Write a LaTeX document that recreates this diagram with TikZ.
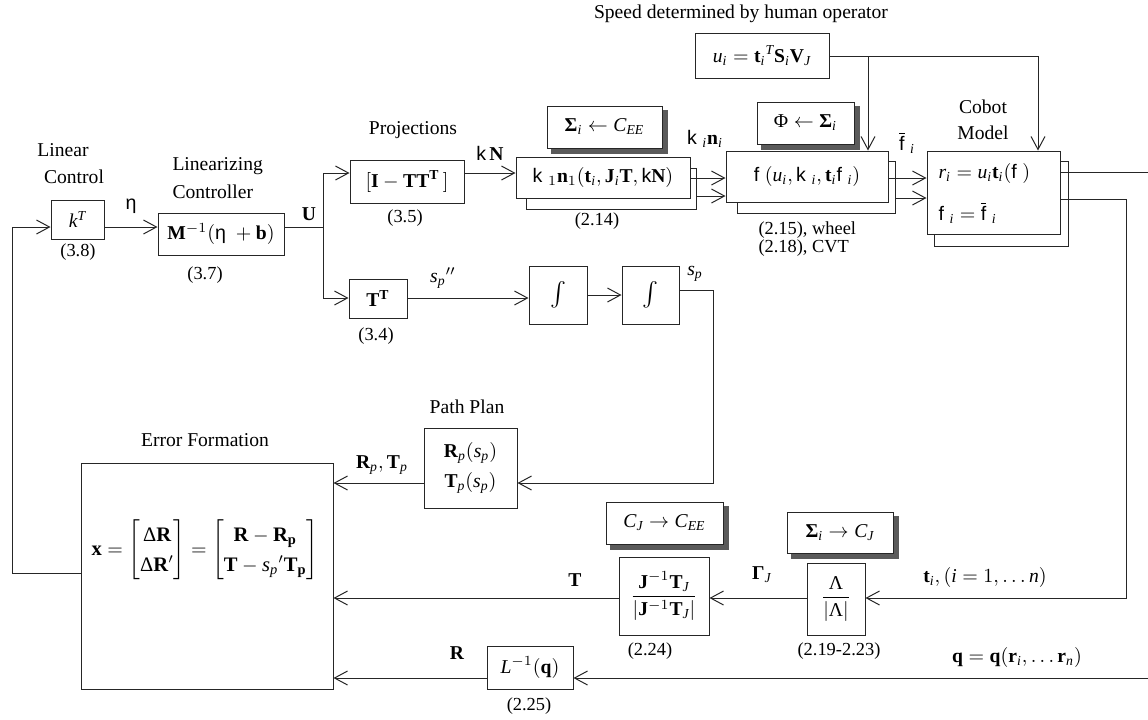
\documentclass[tikz,border=0pt]{standalone}
\usepackage{amsmath}
\usepackage{fontspec}
\setmainfont{Liberation Serif}
\newfontfamily\symf{Liberation Sans}
\DeclareSymbolFont{tletters}{TU}{\rmdefault}{m}{it}
\makeatletter
\count@=`a
\loop\Umathcode\count@="7 \symtletters \count@ \ifnum\count@<`z \advance\count@ by 1 \repeat
\count@=`A
\loop\Umathcode\count@="7 \symtletters \count@ \ifnum\count@<`Z \advance\count@ by 1 \repeat
\makeatother
\usetikzlibrary{arrows.meta,calc}
\definecolor{shadowgray}{RGB}{90,90,90}
\newcommand\Ksym{\text{\symf k}}
\newcommand\Fsym{\text{\symf f}}
\newcommand\Esym{\text{\symf η}}
\newcommand\gS{\text{\bfseries Σ}}
\begin{document}
\begin{tikzpicture}[x=0.5pt,y=-0.5pt,line width=0.5pt,draw=black!85,
  font=\fontsize{9.8}{11}\selectfont,
  box/.style={draw=black!85, fill=white, inner sep=0pt, align=center},
  shbox/.style={box},
  shadowbox/.style={draw=shadowgray, fill=shadowgray, line width=1pt},
  arr/.style={-{Straight Barb[length=6.5pt,width=7pt]}},
  lbl/.style={inner sep=0pt, align=center},
  eqn/.style={inner sep=0pt, font=\fontsize{9.2}{10}\selectfont}]
\useasboundingbox (0,0) rectangle (1148,719);

% ---------- shadows (drawn first, behind the boxes) ----------
\path[shadowbox] (552,111) rectangle (667,153);
\path[shadowbox] (762,107) rectangle (859,149);
\path[shadowbox] (611,507) rectangle (728,549);
\path[shadowbox] (792,517) rectangle (898,558);

% ---------- boxes ----------
\node[box,minimum width=26.5pt,minimum height=19.5pt] (kT) at (77.5,219.5) {$k^T$};
\node[box,minimum width=63pt,minimum height=21pt] (M) at (221,234) {$\mathbf{M}^{-1}(\Esym\;+\mathbf{b})$};
\node[box,minimum width=57pt,minimum height=21.5pt] (IT) at (407,181.5) {$[\mathbf{I}-\mathbf{T}\mathbf{T}^{\mathbf{T}}\,]$};
\node[box,minimum width=29pt,minimum height=19.5pt] (TT) at (378,298.5) {$\mathbf{T}^{\mathbf{T}}$};
\node[box,minimum width=29pt,minimum height=29pt,font=\fontsize{13}{13}\selectfont] (I1) at (558,295) {$\int$};
\node[box,minimum width=28.5pt,minimum height=29pt,font=\fontsize{13}{13}\selectfont] (I2) at (650.5,295) {$\int$};
\node[shbox,minimum width=57.5pt,minimum height=21pt] (S1) at (604.5,127) {$\gS_i\leftarrow C_{EE}$};
\node[box,minimum width=85pt,minimum height=20.5pt] (kapB) at (611,188.5) {};
\node[box,minimum width=87pt,minimum height=20.5pt] (kap) at (603,177.5) {$\Ksym\;_{1}\mathbf{n}_1(\mathbf{t}_i,\mathbf{J}_i\mathbf{T},\Ksym\mathbf{N})$};
\node[shbox,minimum width=48.5pt,minimum height=21pt] (P1) at (805.5,123) {$\text{Φ}\leftarrow\gS_i$};
\node[box,minimum width=79pt,minimum height=26pt] (phiB) at (816,187) {};
\node[box,minimum width=81pt,minimum height=25.5pt] (phi) at (807,176.5) {$\Fsym\;(u_i,\Ksym\;_i,\mathbf{t}_i\Fsym\;_i)$};
\node[box,minimum width=67pt,minimum height=22.5pt] (u) at (762,55.5) {$u_i=\mathbf{t}_i{}^T\mathbf{S}_i\mathbf{V}_J$};
\node[box,minimum width=67pt,minimum height=42.5pt] (cobB) at (1001,203.5) {};
\node[box,minimum width=66.5pt,minimum height=41.5pt] (cob) at (993.5,192.5) {};
\node[lbl,anchor=west] (cobr) at (938,173) {$r_i=u_i\mathbf{t}_i(\Fsym\;)$};
\node[lbl,anchor=west] (cobf) at (938,213) {$\Fsym\;_i=\overline{\Fsym}\;_i$};
\node[box,minimum width=46.5pt,minimum height=40pt] (pp) at (470.5,468) {$\mathbf{R}_p(s_p)$\\[4pt]$\mathbf{T}_p(s_p)$};
\node[box,minimum width=126pt,minimum height=113pt] (err) at (207,576) {};
\node[lbl,font=\fontsize{10.3}{12}\selectfont] (eq) at (205,550) {\renewcommand{\arraystretch}{1.25}$\mathbf{x}=\begin{bmatrix}\text{Δ}\mathbf{R}\\ \text{Δ}\mathbf{R}'\end{bmatrix}=\begin{bmatrix}\mathbf{R}-\mathbf{R_p}\\ \mathbf{T}-s_p{}'\mathbf{T_p}\end{bmatrix}$};
\node[shbox,minimum width=58.5pt,minimum height=21pt] (CJ) at (664.5,523) {$C_J\rightarrow C_{EE}$};
\node[box,minimum width=45pt,minimum height=39pt] (fr) at (664,596) {$\dfrac{\mathbf{J}^{-1}\mathbf{T}_J}{\left|\mathbf{J}^{-1}\mathbf{T}_J\right|}$};
\node[shbox,minimum width=53pt,minimum height=20.5pt] (SC) at (840,532.5) {$\gS_i\rightarrow C_J$};
\node[box,minimum width=29pt,minimum height=36pt] (Lam) at (836,599) {$\dfrac{\text{Λ}}{|\text{Λ}|}$};
\node[box,minimum width=43pt,minimum height=21.5pt] (Li) at (530,667.5) {$L^{-1}(\mathbf{q})$};

% ---------- coordinates ----------
\coordinate (yL) at (0,227);
\coordinate (fb1) at (12,573);
\coordinate (fb2) at (12,227);
\coordinate (sp) at (323,227);
\coordinate (spT) at (323,173);
\coordinate (spB) at (323,298);
\coordinate (y178) at (0,178);
\coordinate (y196) at (0,196);
\coordinate (y198) at (0,198);
\coordinate (y295) at (0,295);
\coordinate (uT1) at (868,56);
\coordinate (uT2) at (1038,56);
\coordinate (r1) at (1148,172);
\coordinate (c2a) at (1126,199);
\coordinate (c2b) at (1126,598);
\coordinate (qR) at (1148,678);
\coordinate (sI) at (713,290);
\coordinate (sI2) at (713,483);

% ---------- connectors ----------
\draw[arr] (err.west |- fb1) -- (fb1) -- (fb2) -- (kT.west |- fb2);
\draw[arr] (kT.east |- yL) -- (M.west |- yL);
\draw (M.east |- yL) -- (sp);
\draw (spT) -- (spB);
\draw[arr] (spT) -- (IT.west |- spT);
\draw[arr] (spB) -- (TT.west |- spB);
\draw[arr] (IT.east |- spT) -- (kap.west |- spT);
\draw[arr] (kap.east |- y178) -- (phi.west |- y178);
\draw[arr] (kapB.east |- y196) -- (phi.west |- y196);
\draw[arr] (phi.east |- y178) -- (cob.west |- y178);
\draw[arr] (phiB.east |- y198) -- (cob.west |- y198);
\draw (u.east |- uT2) -- (uT2);
\draw[arr] (uT2) -- (cob.north -| uT2);
\draw[arr] (uT1) -- (phi.north -| uT1);
\draw (cob.east |- r1) -- (r1);
\draw[arr] (cob.east |- c2a) -- (c2a) -- (c2b) -- (Lam.east |- c2b);
\draw[arr] (Lam.west |- c2b) -- (fr.east |- c2b);
\draw[arr] (fr.west |- c2b) -- (err.east |- c2b);
\draw[arr] (qR) -- (Li.east |- qR);
\draw[arr] (Li.west |- qR) -- (err.east |- qR);
\draw[arr] (TT.east |- spB) -- (I1.west |- spB);
\draw[arr] (I1.east |- y295) -- (I2.west |- y295);
\draw[arr] (I2.east |- sI) -- (sI) -- (sI2) -- (pp.east |- sI2);
\draw[arr] (pp.west |- sI2) -- (err.east |- sI2);

% ---------- labels ----------
\node[lbl] (t1) at (63,150) {Linear};
\node[lbl] (t2) at (74,177) {Control};
\node[lbl,anchor=west] (t3) at (172,166) {Linearizing};
\node[lbl,anchor=west] (t4) at (172,192) {Controller};
\node[lbl] (t5) at (413,130) {Projections};
\node[lbl] (t6) at (741,14) {Speed determined by human operator};
\node[lbl] (t7) at (983,107) {Cobot};
\node[lbl] (t8) at (983,133) {Model};
\node[lbl] (t9) at (467,407) {Path Plan};
\node[lbl] (t10) at (205,440) {Error Formation};
\node[eqn,anchor=west] (t11) at (758,230) {(2.15), wheel};
\node[eqn,anchor=west] (t12) at (758,248) {(2.18), CVT};

\node[eqn] (e1) at (78,252) {(3.8)};
\node[eqn] (e2) at (205,275) {(3.7)};
\node[eqn] (e3) at (405,218) {(3.5)};
\node[eqn] (e4) at (376,336) {(3.4)};
\node[eqn] (e5) at (597,221) {(2.14)};
\node[eqn] (e6) at (650,651) {(2.24)};
\node[eqn] (e7) at (839,651) {(2.19-2.23)};
\node[eqn] (e8) at (529,706) {(2.25)};

\node[lbl] (m1) at (131,206) {\Esym};
\node[lbl] (m2) at (309,214) {$\mathbf{U}$};
\node[lbl] (m3) at (490,153) {$\Ksym\,\mathbf{N}$};
\node[lbl] (m4) at (705,139) {$\Ksym\;_i\mathbf{n}_i$};
\node[lbl] (m5) at (907,143) {$\overline{\Fsym}\;_i$};
\node[lbl] (m6) at (443,278) {$s_p{}''$};
\node[lbl] (m7) at (695,274) {$s_p$};
\node[lbl] (m8) at (382,465) {$\mathbf{R}_p,\mathbf{T}_p$};
\node[lbl] (m9) at (575,580) {$\mathbf{T}$};
\node[lbl] (m10) at (762,575) {$\text{\bfseries Γ}_J$};
\node[lbl] (m11) at (985,577) {$\mathbf{t}_i,(i=1,\ldots n)$};
\node[lbl] (m12) at (1017,657) {$\mathbf{q}=\mathbf{q}(\mathbf{r}_i,\ldots\mathbf{r}_n)$};
\node[lbl] (m13) at (457,653) {$\mathbf{R}$};
\end{tikzpicture}
\end{document}
